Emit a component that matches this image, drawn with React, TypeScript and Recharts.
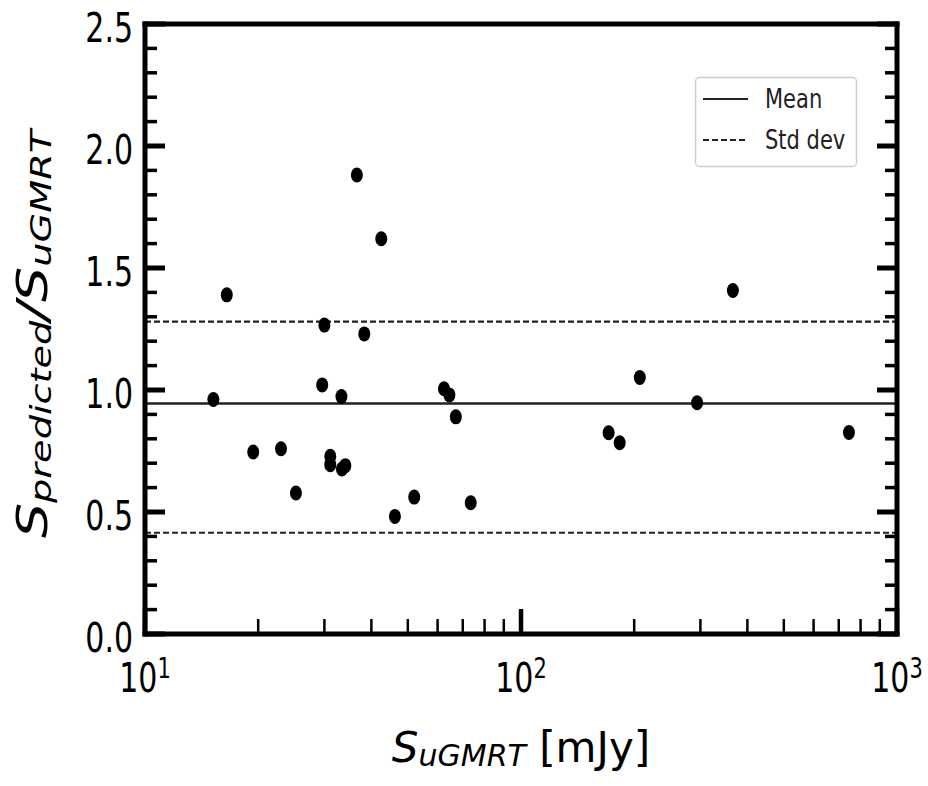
import React from 'react';
import { ScatterChart, Scatter, XAxis, YAxis, ReferenceLine, Legend } from 'recharts';

// S_uGMRT [mJy] and S_predicted / S_uGMRT per source
const fluxes = [15.2, 16.5, 19.4, 23.0, 25.2, 29.6, 30.0, 31.1, 31.1, 33.3, 33.4, 34.1, 36.6, 38.3, 42.5, 46.2, 52.0, 62.4, 64.5, 67.1, 73.5, 171, 183, 207, 294, 366, 745];
const ratios = [0.961, 1.39, 0.746, 0.759, 0.578, 1.021, 1.266, 0.728, 0.694, 0.973, 0.676, 0.69, 1.881, 1.23, 1.62, 0.482, 0.561, 1.005, 0.98, 0.89, 0.538, 0.825, 0.784, 1.051, 0.948, 1.408, 0.826];

const meanRatio = 0.945;
const stdUpper = 1.28;
const stdLower = 0.415;

const xMajorTicks = [10, 100, 1000];
const xMinorTicks = [20, 30, 40, 50, 60, 70, 80, 90, 200, 300, 400, 500, 600, 700, 800, 900];
const xTickExponents = ['1', '2', '3'];
const yMajorTicks = [0, 0.5, 1, 1.5, 2, 2.5];
const yMinorTicks = [0.1, 0.2, 0.3, 0.4, 0.6, 0.7, 0.8, 0.9, 1.1, 1.2, 1.3, 1.4, 1.6, 1.7, 1.8, 1.9, 2.1, 2.2, 2.3, 2.4];
const legendLabels = ['Mean', 'Std dev'];

const data = fluxes.map((flux, i) => ({ flux, ratio: ratios[i] }));
const xTicks = [...xMajorTicks, ...xMinorTicks].sort((a, b) => a - b);
const yTicks = [...yMajorTicks, ...yMinorTicks].sort((a, b) => a - b);

const FONT = 'DejaVu Sans';
const SY = 1.36; // the source figure is stretched vertically

const LeftTick = ({ x, y, payload }: any) => {
  const major = yMajorTicks.includes(payload.value);
  return (
    <g>
      <line x1={x} x2={x + (major ? 20 : 12)} y1={y} y2={y} stroke="#000" strokeWidth={major ? 5 : 3.5} />
      {major && (
        <text transform={`translate(${x - 12},${y}) scale(1,${SY})`} y={13} textAnchor="end" fontSize={30} fontFamily={FONT} fill="#000">
          {payload.value.toFixed(1)}
        </text>
      )}
    </g>
  );
};

const RightTick = ({ x, y, payload }: any) => {
  const major = yMajorTicks.includes(payload.value);
  return <line x1={x} x2={x - (major ? 20 : 12)} y1={y} y2={y} stroke="#000" strokeWidth={major ? 5 : 3.5} />;
};

const BottomTick = ({ x, y, payload }: any) => {
  const idx = xMajorTicks.indexOf(payload.value);
  const major = idx >= 0;
  return (
    <g>
      <line x1={x} x2={x} y1={y} y2={y - (major ? 25 : 15)} stroke="#000" strokeWidth={major ? 4.5 : 2.5} />
      {major && (
        <text transform={`translate(${x},${y}) scale(1,${SY})`} y={43} textAnchor="middle" fontSize={30} fontFamily={FONT} fill="#000">
          <tspan>10</tspan>
          <tspan dy={-11} fontSize={21}>{xTickExponents[idx]}</tspan>
        </text>
      )}
    </g>
  );
};

const TopTick = ({ x, y, payload }: any) => {
  const major = xMajorTicks.includes(payload.value);
  return <line x1={x} x2={x} y1={y} y2={y + (major ? 25 : 15)} stroke="#000" strokeWidth={major ? 4.5 : 2.5} />;
};

const XTitle = ({ viewBox }: any) => {
  const cx = viewBox.x + viewBox.width / 2;
  return (
    <text x={cx} y={viewBox.y + 128} textAnchor="middle" fontSize={42} fontFamily={FONT} fill="#000">
      <tspan fontStyle="italic">S</tspan>
      <tspan fontStyle="italic" fontSize={30} dy={4}>uGMRT</tspan>
      <tspan dy={-4}>{'\u00a0[mJy]'}</tspan>
    </text>
  );
};

const YTitle = ({ viewBox }: any) => {
  const cy = viewBox.y + viewBox.height / 2 + 5;
  return (
    <text transform={`translate(47,${cy}) scale(1,1.32) rotate(-90)`} textAnchor="middle" fontSize={42} fontFamily={FONT} fontStyle="italic" fill="#000">
      <tspan>S</tspan>
      <tspan fontSize={29} dy={4}>predicted</tspan>
      <tspan dy={-4}>/S</tspan>
      <tspan fontSize={29} dy={4}>uGMRT</tspan>
    </text>
  );
};

const LegendBox = () => (
  <svg width={166} height={94} style={{ display: 'block' }}>
    <rect x={2.5} y={2.5} width={161} height={89} rx={4} fill="#fff" fillOpacity={0.8} stroke="#cfcfcf" strokeWidth={1.5} />
    {legendLabels.map((label, i) => {
      const ly = 24 + i * 41;
      return (
        <g key={label}>
          <line x1={10} x2={55} y1={ly} y2={ly} stroke="#222" strokeWidth={2.2} strokeDasharray={i === 1 ? '6 3' : undefined} />
          <text transform={`translate(72,${ly + 9}) scale(1,1.3)`} fontSize={21} fontFamily={FONT} fill="#222">
            {label}
          </text>
        </g>
      );
    })}
  </svg>
);

const Dot = ({ cx, cy }: any) => <ellipse cx={cx} cy={cy} rx={6} ry={7.5} fill="#000" />;

const frameLine = { stroke: '#000', strokeWidth: 5, strokeLinecap: 'square' as const };

export default function App() {
  return (
    <div style={{ width: 928, height: 786, background: '#fff' }}>
      <style>{'body{margin:0}'}</style>
      <ScatterChart width={928} height={786} margin={{ top: 23, right: 30, bottom: 0, left: 0 }}>
        <XAxis
          xAxisId="x"
          dataKey="flux"
          type="number"
          scale="log"
          domain={[10, 1000]}
          ticks={xTicks}
          interval={0}
          height={152}
          tickSize={0}
          tickMargin={0}
          tick={BottomTick}
          axisLine={frameLine}
          tickLine={false}
          allowDataOverflow
          label={XTitle}
        />
        <XAxis
          xAxisId="top"
          orientation="top"
          type="number"
          scale="log"
          domain={[10, 1000]}
          ticks={xTicks}
          interval={0}
          height={1}
          tickSize={0}
          tickMargin={0}
          tick={TopTick}
          axisLine={frameLine}
          tickLine={false}
          allowDataOverflow
        />
        <YAxis
          yAxisId="y"
          dataKey="ratio"
          type="number"
          domain={[0, 2.5]}
          ticks={yTicks}
          interval={0}
          width={145}
          tickSize={0}
          tickMargin={0}
          tick={LeftTick}
          axisLine={frameLine}
          tickLine={false}
          allowDataOverflow
          label={YTitle}
        />
        <YAxis
          yAxisId="right"
          orientation="right"
          type="number"
          domain={[0, 2.5]}
          ticks={yTicks}
          interval={0}
          width={1}
          tickSize={0}
          tickMargin={0}
          tick={RightTick}
          axisLine={frameLine}
          tickLine={false}
          allowDataOverflow
        />
        <ReferenceLine xAxisId="x" yAxisId="y" y={meanRatio} stroke="#222" strokeWidth={2.5} />
        <ReferenceLine xAxisId="x" yAxisId="y" y={stdUpper} stroke="#222" strokeWidth={2.2} strokeDasharray="6 3" />
        <ReferenceLine xAxisId="x" yAxisId="y" y={stdLower} stroke="#222" strokeWidth={2.2} strokeDasharray="6 3" />
        <Scatter xAxisId="x" yAxisId="y" data={data} shape={Dot} isAnimationActive={false} />
        <Legend
          layout="vertical"
          align="center"
          verticalAlign="middle"
          content={LegendBox}
          wrapperStyle={{ left: 693, top: 75, width: 166, height: 94 }}
        />
      </ScatterChart>
    </div>
  );
}
